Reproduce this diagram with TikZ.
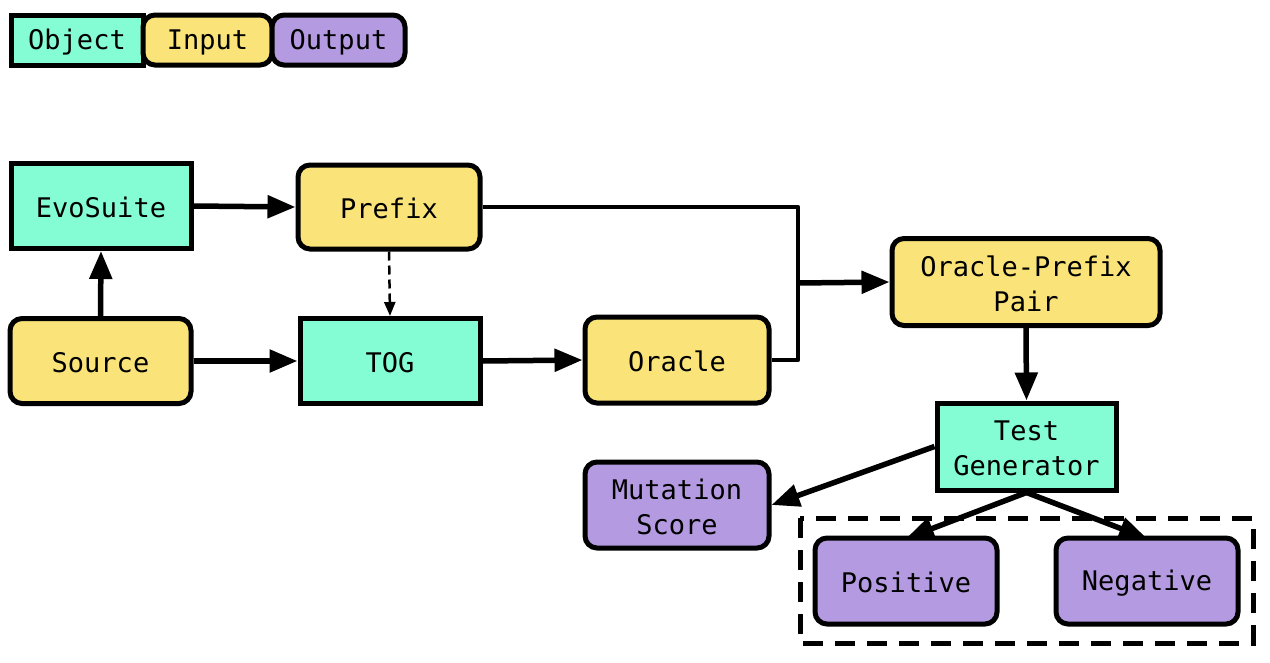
\documentclass[tikz,border=0pt]{standalone}
\usepackage{fontspec}
\setmonofont{DejaVu Sans Mono}
\usetikzlibrary{arrows.meta}
\definecolor{objc}{HTML}{84FCD4}
\definecolor{inc}{HTML}{FAE47A}
\definecolor{outc}{HTML}{B49AE0}
\newcommand\mystrut{\rule[-2.4pt]{0pt}{28pt}}
\tikzset{
  base/.style={draw=black, line width=5pt, font=\ttfamily\fontsize{27}{35}\selectfont, align=center, inner sep=0pt, anchor=center},
  objbox/.style={base, fill=objc},
  inbox/.style={base, fill=inc, rounded corners=12pt},
  outbox/.style={base, fill=outc, rounded corners=12pt},
  conn/.style={line width=5.5pt, -{Triangle[length=28pt,width=22pt]}},
  thinconn/.style={line width=4.5pt},
}
\begin{document}
\begin{tikzpicture}[x=1pt,y=-1pt]
\useasboundingbox (0,0) rectangle (1270,662);
% legend
\node[objbox, minimum width=132pt, minimum height=50pt] (lo) at (77,40) {Object\mystrut};
\node[inbox, minimum width=129pt, minimum height=50pt] (li) at (207.5,40) {Input\mystrut};
\node[outbox, minimum width=133pt, minimum height=50pt] (lu) at (338.5,40) {Output\mystrut};
% nodes
\node[objbox, minimum width=180pt, minimum height=85pt] (evo) at (101,206) {EvoSuite\mystrut};
\node[inbox, minimum width=182pt, minimum height=84pt] (pre) at (389,207) {Prefix\mystrut};
\node[inbox, minimum width=181pt, minimum height=85pt] (src) at (100.5,361) {Source\mystrut};
\node[objbox, minimum width=180pt, minimum height=85pt] (tog) at (390,361) {TOG\mystrut};
\node[inbox, minimum width=184pt, minimum height=86pt] (ora) at (677,360) {Oracle\mystrut};
\node[inbox, minimum width=268pt, minimum height=87pt] (opp) at (1026,282) {Oracle-Prefix\mystrut\\Pair\mystrut};
\node[objbox, minimum width=179pt, minimum height=87pt] (tg) at (1026.5,446.5) {Test\mystrut\\Generator\mystrut};
\node[outbox, minimum width=184pt, minimum height=86pt] (ms) at (677,505) {Mutation\mystrut\\Score\mystrut};
\node[outbox, minimum width=182pt, minimum height=86pt] (pos) at (906,581) {Positive\mystrut};
\node[outbox, minimum width=182pt, minimum height=86pt] (neg) at (1147,581) {Negative\mystrut};
\draw[line width=5pt, dash pattern=on 20pt off 12pt] (800,518) rectangle (1253,643);
% connectors
\draw[conn] (evo.east) -- (pre.west);
\draw[conn] (src.east) -- (tog.west);
\draw[conn] (tog.east) -- (ora.west);
\draw[conn] (src.north) -- (evo.south);
\draw[line width=2.5pt, dash pattern=on 9pt off 5pt, -{Triangle[length=14pt,width=11pt]}] (pre.south) -- (tog.north);
\coordinate (j) at (798,283);
\draw[thinconn, line join=round] (pre.east) -- (798,207) -- (798,360) -- (ora.east);
\draw[conn] (j) -- (opp.west);
\draw[conn] (opp.south) -- (tg.north);
\draw[conn] (tg.west) -- (ms.east);
\draw[conn] (tg.south) -- ([yshift=-3pt]pos.north);
\draw[conn] (tg.south) -- ([yshift=-3pt]neg.north);
\end{tikzpicture}
\end{document}
